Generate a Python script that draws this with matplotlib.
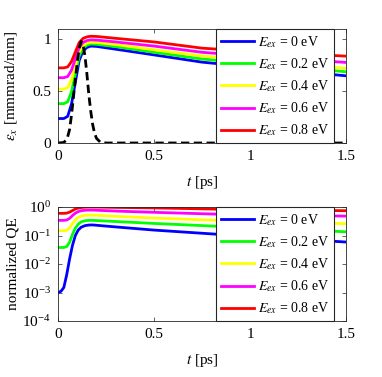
import numpy as np
import matplotlib
matplotlib.use("Agg")
import matplotlib.pyplot as plt

plt.rcParams['font.family'] = ['Liberation Serif', 'DejaVu Serif']
plt.rcParams['mathtext.fontset'] = 'stix'

# 에너지별 범례 라벨
labels = [r'$E_{ex}$ = 0 eV', r'$E_{ex}$ = 0.2 eV', r'$E_{ex}$ = 0.4 eV',
          r'$E_{ex}$ = 0.6 eV', r'$E_{ex}$ = 0.8 eV']
colors = ['#0000ff', '#00ff00', '#ffff00', '#ff00ff', '#ff0000']

# 위 그래프: emittance
t_em = [0, 0.03, 0.05, 0.07, 0.09, 0.11, 0.13, 0.15, 0.17, 0.2, 0.3, 0.5, 0.75, 1.0, 1.5]
em_0 = [0.236, 0.236, 0.257, 0.376, 0.586, 0.796, 0.887, 0.922, 0.935, 0.932, 0.905, 0.85, 0.78, 0.735, 0.648]
em_2 = [0.38, 0.38, 0.397, 0.495, 0.668, 0.84, 0.915, 0.944, 0.955, 0.952, 0.93, 0.875, 0.81, 0.77, 0.687]
em_4 = [0.52, 0.52, 0.534, 0.61, 0.746, 0.882, 0.94, 0.963, 0.972, 0.97, 0.95, 0.9, 0.84, 0.8, 0.72]
em_6 = [0.63, 0.63, 0.641, 0.703, 0.813, 0.922, 0.97, 0.988, 0.995, 0.993, 0.975, 0.935, 0.875, 0.84, 0.777]
em_8 = [0.725, 0.725, 0.734, 0.786, 0.878, 0.969, 1.009, 1.024, 1.03, 1.028, 1.01, 0.975, 0.915, 0.885, 0.838]

# 레이저 펄스 (점선)
t_laser = [0, 0.03, 0.04, 0.05, 0.06, 0.07, 0.08, 0.09, 0.10, 0.11, 0.12, 0.13, 0.14,
           0.15, 0.16, 0.17, 0.18, 0.19, 0.20, 0.22, 0.25, 1.5]
laser = [0, 0.005, 0.025, 0.06, 0.13, 0.27, 0.44, 0.62, 0.78, 0.91, 0.98, 0.95, 0.84,
         0.67, 0.47, 0.31, 0.18, 0.095, 0.045, 0.008, 0, 0]

# 아래 그래프: normalized QE
t_qe = [0, 0.015, 0.03, 0.045, 0.06, 0.075, 0.09, 0.105, 0.12, 0.14, 0.16, 0.18, 0.3, 0.5, 0.835, 1.5]
qe_0 = [0.001, 0.0011, 0.0015, 0.0042, 0.015, 0.045, 0.1, 0.155, 0.195, 0.222, 0.233, 0.235, 0.2, 0.155, 0.11, 0.059]
qe_2 = [0.038, 0.038, 0.038, 0.041, 0.058, 0.11, 0.18, 0.25, 0.3, 0.33, 0.34, 0.34, 0.31, 0.265, 0.21, 0.135]
qe_4 = [0.148, 0.148, 0.148, 0.152, 0.185, 0.26, 0.35, 0.43, 0.48, 0.51, 0.52, 0.52, 0.47, 0.41, 0.34, 0.26]
qe_6 = [0.34, 0.34, 0.34, 0.35, 0.4, 0.5, 0.61, 0.69, 0.74, 0.77, 0.78, 0.78, 0.72, 0.65, 0.56, 0.48]
qe_8 = [0.6, 0.6, 0.6, 0.61, 0.66, 0.75, 0.85, 0.92, 0.96, 0.99, 1.0, 1.0, 0.97, 0.93, 0.84, 0.74]

em_all = [em_0, em_2, em_4, em_6, em_8]
qe_all = [qe_0, qe_2, qe_4, qe_6, qe_8]

fig = plt.figure(figsize=(3.82, 3.77), dpi=100)
ax1 = fig.add_axes([0.152, 0.6207, 0.754, 0.3024])
ax2 = fig.add_axes([0.152, 0.1485, 0.754, 0.3024])

for y, c, lab in zip(em_all, colors, labels):
    ax1.plot(t_em, y, color=c, lw=2, label=lab)
ax1.plot(t_laser, laser, color='k', lw=2, ls='--', dashes=(3, 1.6))

for y, c, lab in zip(qe_all, colors, labels):
    ax2.plot(t_qe, y, color=c, lw=2, label=lab)
ax2.set_yscale('log')

ax1.set_xlim(0, 1.5)
ax1.set_ylim(0, 1.1)
ax1.set_xticks([0, 0.5, 1, 1.5])
ax1.set_xticklabels(['0', '0.5', '1', '1.5'])
ax1.set_yticks([0, 0.5, 1])
ax1.set_yticklabels(['0', '0.5', '1'])

ax2.set_xlim(0, 1.5)
ax2.set_ylim(1e-4, 1)
ax2.set_xticks([0, 0.5, 1, 1.5])
ax2.set_xticklabels(['0', '0.5', '1', '1.5'])
ax2.set_yticks([1e-4, 1e-3, 1e-2, 1e-1, 1])

for ax in (ax1, ax2):
    ax.tick_params(which='both', direction='in', top=True, right=True,
                   labelsize=11, width=0.5, colors='0.15', labelcolor='k', pad=5)
    ax.tick_params(which='major', length=3)
    ax.tick_params(which='minor', length=1.6)
    for s in ax.spines.values():
        s.set_color('0.15')
        s.set_linewidth(0.6)
    ax.set_xlabel(r'$t$ [ps]', fontsize=11)
    ax.xaxis.set_label_coords(0.5, -0.27)
    leg = ax.legend(loc='upper left', bbox_to_anchor=(0.549, 1.0), borderaxespad=0,
                    fontsize=10, handlelength=2.4, handletextpad=0.25,
                    labelspacing=0.46, borderpad=0.35, fancybox=False,
                    framealpha=1, edgecolor='0.15')
    leg.get_frame().set_linewidth(0.8)

ax1.set_ylabel(r'$\epsilon_x$ [mmmrad/mm]', fontsize=11)
ax2.set_ylabel('normalized QE', fontsize=11)
ax1.yaxis.set_label_coords(-0.135, 0.5)
ax2.yaxis.set_label_coords(-0.135, 0.5)

fig.savefig('out.png', dpi=100)
